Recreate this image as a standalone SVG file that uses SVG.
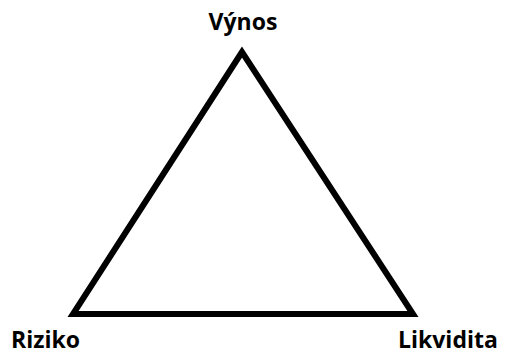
<svg xmlns="http://www.w3.org/2000/svg" width="507" height="356" viewBox="0 0 507 356">
<style>
.lbl{font-family:"Open Sans","Liberation Sans",sans-serif;font-weight:bold;font-size:23px;fill:#000}
.edge{fill:none;stroke:#000;stroke-width:6;stroke-linejoin:miter}
</style>
<rect width="507" height="356" fill="#fff"/>
<g id="connectors">
<polygon class="edge" points="242,52 73,314 413,314"/>
</g>
<g id="vynos"><text class="lbl" x="243" y="30" text-anchor="middle">Výnos</text></g>
<g id="riziko"><text class="lbl" x="11" y="348">Riziko</text></g>
<g id="likvidita"><text class="lbl" x="398" y="348">Likvidita</text></g>
</svg>
